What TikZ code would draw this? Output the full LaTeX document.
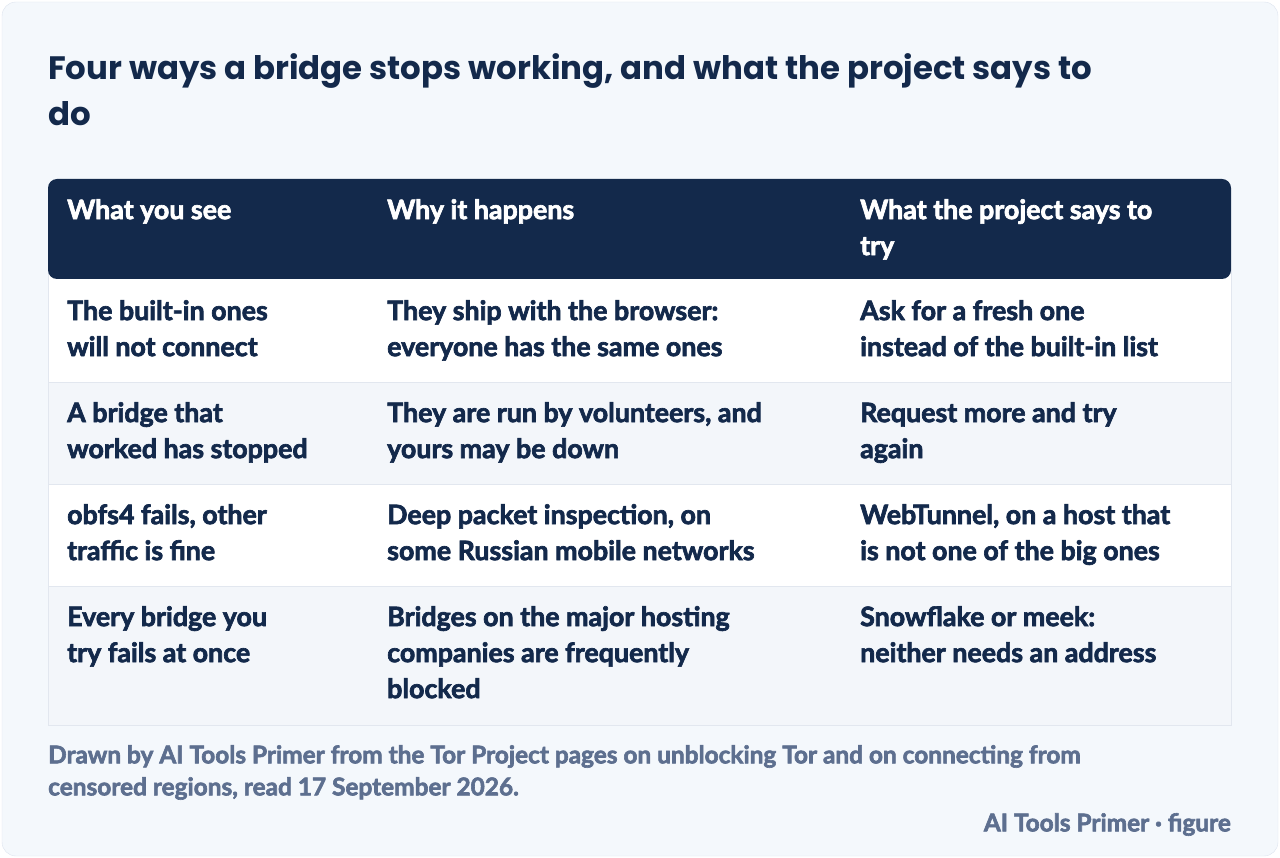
\documentclass[tikz,border=0pt]{standalone}
\usepackage{fontspec}
\setmainfont{Lato}[BoldFeatures={FakeBold=2.5}]
\newfontfamily\titlefont{Poppins}
\definecolor{navy}{HTML}{13294B}
\definecolor{card}{HTML}{F4F8FC}
\definecolor{cardline}{HTML}{DDE3EE}
\definecolor{rowalt}{HTML}{F3F6FA}
\definecolor{rule}{HTML}{E2E7EF}
\definecolor{note}{HTML}{5D6F8F}
\begin{document}
\begin{tikzpicture}[x=1pt,y=1pt,
  cell/.style={anchor=north west,inner sep=0pt,align=left,text=navy,
    font=\bfseries\fontsize{26.8}{36}\selectfont},
  head/.style={cell,text=white},
  foot/.style={anchor=north west,inner sep=0pt,align=left,text=note,
    font=\bfseries\fontsize{24.4}{32}\selectfont}]
\useasboundingbox (0,0) rectangle (1280,-858);
\draw[cardline,fill=card,rounded corners=14] (2,-2) rectangle (1278,-856);
% title
\node[anchor=north west,inner sep=0pt,align=left,text=navy,
  font=\titlefont\bfseries\fontsize{32.4}{46}\selectfont] (title) at (48,-53)
  {Four ways a bridge stops working, and what the project says to\\do};
% rows
\fill[white] (48,-270) rectangle (1231,-382);
\fill[rowalt] (48,-382) rectangle (1231,-484);
\fill[white] (48,-484) rectangle (1231,-586);
\fill[rowalt] (48,-586) rectangle (1231,-725);
\draw[rule] (48,-270) rectangle (1231,-725);
\foreach \y in {382,484,586} \draw[rule] (48,-\y) -- (1231,-\y);
% header
\fill[navy,rounded corners=9] (48,-179) rectangle (1231,-279);
\node[head] (h1) at (67,-199) {What you see};
\node[head] (h2) at (387,-199) {Why it happens};
\node[head] (h3) at (860,-199) {What the project says to\\try};
% body
\node[cell] (a1) at (67,-300) {The built-in ones\\will not connect};
\node[cell] (a2) at (387,-300) {They ship with the browser:\\everyone has the same ones};
\node[cell] (a3) at (860,-300) {Ask for a fresh one\\instead of the built-in list};
\node[cell] (b1) at (67,-402) {A bridge that\\worked has stopped};
\node[cell] (b2) at (387,-402) {They are run by volunteers, and\\yours may be down};
\node[cell] (b3) at (860,-402) {Request more and try\\again};
\node[cell] (c1) at (67,-504) {obfs4 fails, other\\traffic is fine};
\node[cell] (c2) at (387,-504) {Deep packet inspection, on\\some Russian mobile networks};
\node[cell] (c3) at (860,-504) {WebTunnel, on a host that\\is not one of the big ones};
\node[cell] (d1) at (67,-606) {Every bridge you\\try fails at once};
\node[cell] (d2) at (387,-606) {Bridges on the major hosting\\companies are frequently\\blocked};
\node[cell] (d3) at (860,-606) {Snowflake or meek:\\neither needs an address};
% footer
\node[foot] (src) at (48,-745) {Drawn by AI Tools Primer from the Tor Project pages on unblocking Tor and on connecting from\\censored regions, read 17 September 2026.};
\node[anchor=north east,inner sep=0pt,text=note,font=\bfseries\fontsize{24.4}{24}\selectfont] (brand) at (1231,-813) {AI Tools Primer · figure};
\end{tikzpicture}
\end{document}
